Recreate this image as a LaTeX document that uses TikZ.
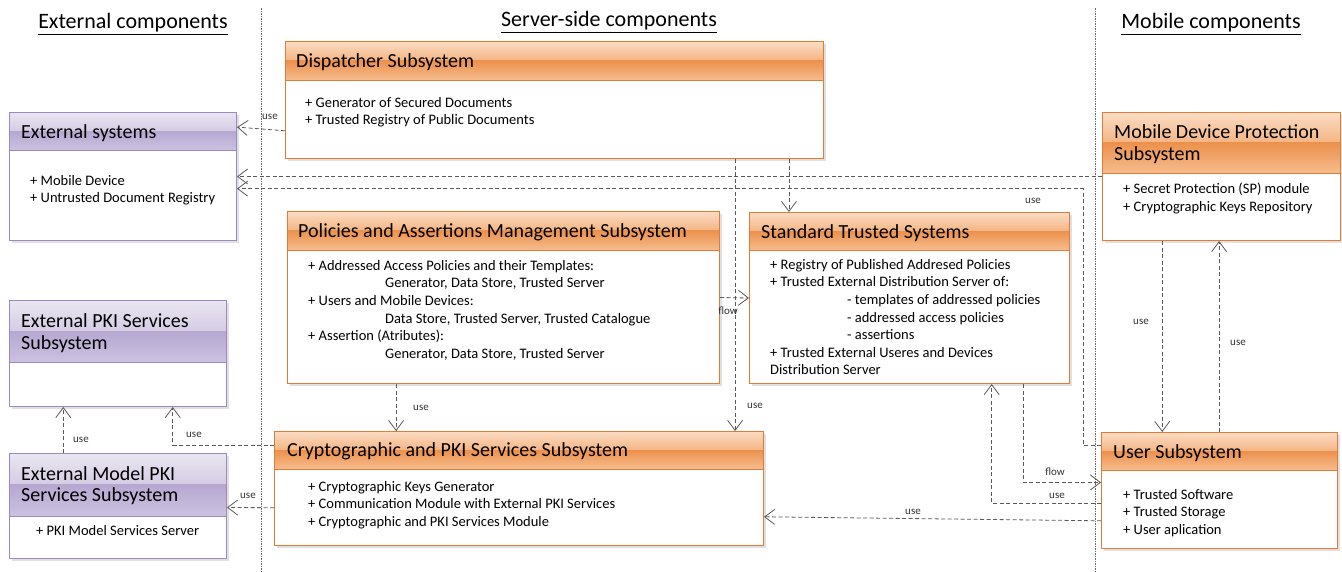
\documentclass[tikz,border=0pt]{standalone}
\usepackage{fontspec}
\setmainfont{Carlito}
\usetikzlibrary{arrows.meta,calc}
\definecolor{oa}{HTML}{FBDDC5}
\definecolor{ob}{HTML}{F4B584}
\definecolor{oc}{HTML}{EC914C}
\definecolor{od}{HTML}{F6BC8E}
\definecolor{obord}{HTML}{E07C36}
\definecolor{pa}{HTML}{EAE6F1}
\definecolor{pb}{HTML}{D5CCE4}
\definecolor{pc}{HTML}{B6A7D1}
\definecolor{pd}{HTML}{CCC2E0}
\definecolor{pbord}{HTML}{9C89C1}
\tikzset{
 dep/.style={draw=black!65, dash pattern=on 4pt off 2.5pt, line width=0.8pt, -{Straight Barb[length=10pt,width=15pt]}},
 lbl/.style={font=\fontsize{11}{13}\selectfont, text=black!80, inner sep=0pt},
 body/.style={font=\fontsize{14.5}{17.6}\selectfont, align=left, anchor=north west, inner sep=0pt},
 ttl/.style={font=\fontsize{20}{21.5}\selectfont, align=left, anchor=west, inner sep=0pt},
 sect/.style={font=\fontsize{22}{26}\selectfont, inner sep=0pt},
 divider/.style={draw=black!60, line width=0.6pt, dash pattern=on 1.5pt off 1pt},
}
\newcommand\umlbox[7]{%
 \fill[black!12] ({#3+3},{#4+3}) rectangle ({#5+3},{#7+3});
 \fill[white] (#3,#4) rectangle (#5,#7);
 \shade[top color=#2a, bottom color=#2b] (#3,#4) rectangle (#5,{(#4+#6)/2});
 \shade[top color=#2c, bottom color=#2d] (#3,{(#4+#6)/2}) rectangle (#5,#6);
 \draw[#2bord, line width=1pt] (#3,#6) -- (#5,#6);
 \node[draw=#2bord, line width=1pt, inner sep=0pt, anchor=north west, minimum width={#5-#3}, minimum height={#7-#4}] (#1) at (#3,#4) {};
}
\begin{document}
\begin{tikzpicture}[x=1pt,y=-1pt]
\useasboundingbox (0,0) rectangle (1342,571);
\fill[white] (0,0) rectangle (1342,571);
% section headings and dividers
\node[sect] (h1) at (133,24) {\underline{External components}};
\node[sect] (h2) at (609,22) {\underline{Server-side components}};
\node[sect] (h3) at (1211,24) {\underline{Mobile components}};
\draw[divider] (261,8) -- (261,571);
\draw[divider] (1095,8) -- (1095,571);
% boxes
\umlbox{extsys}{p}{9}{112}{236}{150}{240}
\umlbox{disp}{o}{285}{41}{823}{80}{158}
\umlbox{pol}{o}{287}{211}{719}{250}{383}
\umlbox{std}{o}{749}{212}{1069}{250}{383}
\umlbox{mdp}{o}{1102}{112}{1340}{173}{240}
\umlbox{extpki}{p}{9}{300}{226}{362}{406}
\umlbox{extmodel}{p}{9}{453}{226}{516}{558}
\umlbox{crypto}{o}{274}{431}{763}{469}{545}
\umlbox{user}{o}{1101}{432}{1337}{470}{548}
% titles
\node[ttl] (t1) at (21,133) {External systems};
\node[ttl] (t2) at (296,62) {Dispatcher Subsystem};
\node[ttl] (t3) at (298,232) {Policies and Assertions Management Subsystem};
\node[ttl] (t4) at (761,233) {Standard Trusted Systems};
\node[ttl] (t5) at (1114,144) {Mobile Device Protection\\Subsystem};
\node[ttl] (t6) at (21,333) {External PKI Services\\Subsystem};
\node[ttl] (t7) at (21,485.5) {External Model PKI\\Services Subsystem};
\node[ttl] (t8) at (287,451) {Cryptographic and PKI Services Subsystem};
\node[ttl] (t9) at (1113,453) {User Subsystem};
% bodies
\node[body] (b1) at (30,175) {+ Mobile Device\\+ Untrusted Document Registry};
\node[body] (b2) at (305,97) {+ Generator of Secured Documents\\+ Trusted Registry of Public Documents};
\node[body] (b3) at (308,260) {+ Addressed Access Policies and their Templates:\\\hspace*{77pt}Generator, Data Store, Trusted Server\\+ Users and Mobile Devices:\\\hspace*{77pt}Data Store, Trusted Server, Trusted Catalogue\\+ Assertion (Atributes):\\\hspace*{77pt}Generator, Data Store, Trusted Server};
\node[body] (b4) at (770,259) {+ Registry of Published Addresed Policies\\+ Trusted External Distribution Server of:\\\hspace*{77pt}- templates of addressed policies\\\hspace*{77pt}- addressed access policies\\\hspace*{77pt}- assertions\\+ Trusted External Useres and Devices\\Distribution Server};
\node[body] (b5) at (1123,183) {+ Secret Protection (SP) module\\+ Cryptographic Keys Repository};
\node[body] (b6) at (36,525) {+ PKI Model Services Server};
\node[body] (b7) at (308,481) {+ Cryptographic Keys Generator\\+ Communication Module with External PKI Services\\+ Cryptographic and PKI Services Module};
\node[body] (b8) at (1123,489) {+ Trusted Software\\+ Trusted Storage\\+ User aplication};
% connectors
\draw[dep] ($(disp.north west)!.761!(disp.south west)$) -- ($(extsys.north east)!.117!(extsys.south east)$);
\node[lbl] (l1) at (270,117) {use};
\draw[dep] (mdp.west) -- (extsys.east);
\draw[dep] ($(user.north west)!.112!(user.south west)$) -- ++(-18,0) |- ($(extsys.north east)!.594!(extsys.south east)$);
\node[lbl] (l2) at (1033,201) {use};
\draw[dep] ($(disp.south west)!.835!(disp.south east)$) coordinate (c4) -- (c4 |- crypto.north);
\node[lbl] (l3) at (755,406) {use};
\draw[dep] ($(disp.south west)!.935!(disp.south east)$) coordinate (c5) -- (c5 |- std.north);
\draw[dep] ($(pol.south west)!.252!(pol.south east)$) coordinate (c6) -- (c6 |- crypto.north);
\node[lbl] (l4) at (421,408) {use};
\draw[dep] (pol.east) -- (std.west);
\node[lbl] (l5) at (728,311) {flow};
\draw[dep] ($(user.north west)!.612!(user.south west)$) -| ($(std.south west)!.756!(std.south east)$);
\node[lbl] (l6) at (1057,496) {use};
\draw[dep] ($(std.south west)!.856!(std.south east)$) |- ($(user.north west)!.431!(user.south west)$);
\node[lbl] (l7) at (1055,472) {flow};
\draw[dep] ($(user.north west)!.759!(user.south west)$) -- ($(crypto.north east)!.746!(crypto.south east)$);
\node[lbl] (l8) at (913,512) {use};
\draw[dep] ($(mdp.south west)!.252!(mdp.south east)$) coordinate (c11) -- (c11 |- user.north);
\node[lbl] (l9) at (1141,322) {use};
\path ($(mdp.south west)!.49!(mdp.south east)$) coordinate (c12);
\draw[dep] (c12 |- user.north) -- (c12);
\node[lbl] (l10) at (1238,343) {use};
\draw[dep] ($(crypto.north west)!.123!(crypto.south west)$) -| ($(extpki.south west)!.751!(extpki.south east)$);
\node[lbl] (l11) at (194,435) {use};
\draw[dep] ($(extmodel.north west)!.249!(extmodel.north east)$) coordinate (c14) -- (c14 |- extpki.south);
\node[lbl] (l12) at (81,440) {use};
\draw[dep] ($(crypto.north west)!.667!(crypto.south west)$) -- ($(extmodel.north east)!.514!(extmodel.south east)$);
\node[lbl] (l13) at (248,496) {use};
\end{tikzpicture}
\end{document}
